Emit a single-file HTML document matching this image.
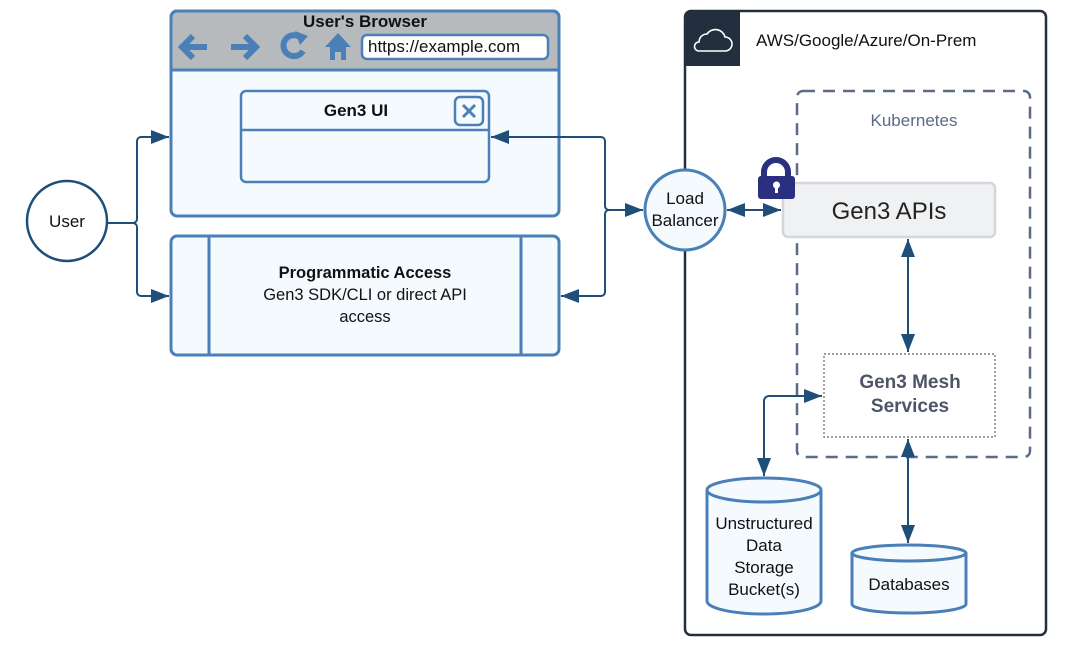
<!DOCTYPE html>
<html><head><meta charset="utf-8"><style>
html,body{margin:0;padding:0;background:#fff;width:1075px;height:658px;overflow:hidden}
svg{display:block;font-family:"Liberation Sans",Arial,sans-serif}
</style></head><body>
<svg width="1075" height="658" viewBox="0 0 1075 658">
<defs>
<marker id="b" markerWidth="18" markerHeight="14" refX="18" refY="7" orient="auto-start-reverse" markerUnits="userSpaceOnUse">
<path d="M0,0 L18,7 L0,14 Z" fill="#1f4e79"/></marker>
</defs>

<!-- Browser -->
<rect x="171" y="11" width="388" height="205" rx="6" fill="#f5faff" stroke="#4a80b7" stroke-width="3"/>
<path d="M171,70 V17 a6,6 0 0 1 6,-6 H553 a6,6 0 0 1 6,6 V70 Z" fill="#b7babd" stroke="#4a80b7" stroke-width="3"/>
<text x="365" y="27" text-anchor="middle" font-size="17" font-weight="bold" fill="#111">User's Browser</text>
<g stroke="#4a80b7" stroke-width="6" fill="none" stroke-linecap="butt">
<path d="M207,47 H182 M193,36 L182,47 L193,58"/>
<path d="M231,47 H256 M245,36 L256,47 L245,58"/>
<path d="M300,37 A10.5,10.5 0 1 0 303,51"/>
</g>
<path d="M295,31 L308,36 L300,45 Z" fill="#4a80b7"/>
<path d="M338,33 L325,47 H330 V60 H335 V52 H341 V60 H346 V47 H351 Z" fill="#4a80b7"/>
<rect x="362" y="35" width="186" height="24" rx="5" fill="#fff" stroke="#4a80b7" stroke-width="2.5"/>
<text x="368" y="52" font-size="17" fill="#111">https://example.com</text>

<rect x="241" y="91" width="248" height="91" rx="5" fill="#f5faff" stroke="#4a80b7" stroke-width="2.5"/>
<line x1="241" y1="130" x2="489" y2="130" stroke="#4a80b7" stroke-width="2.5"/>
<text x="356" y="116" text-anchor="middle" font-size="17" font-weight="bold" fill="#111">Gen3 UI</text>
<rect x="455" y="97" width="28" height="28" rx="5" fill="#f5faff" stroke="#4a80b7" stroke-width="2.5"/>
<path d="M463,105 L475,117 M475,105 L463,117" stroke="#4a80b7" stroke-width="3"/>

<!-- Programmatic -->
<rect x="171" y="236" width="388" height="119" rx="6" fill="#f5faff" stroke="#4a80b7" stroke-width="3"/>
<line x1="209" y1="236" x2="209" y2="355" stroke="#4a80b7" stroke-width="3"/>
<line x1="521" y1="236" x2="521" y2="355" stroke="#4a80b7" stroke-width="3"/>
<text x="365" y="278" text-anchor="middle" font-size="16.5" font-weight="bold" fill="#111">Programmatic Access</text>
<text x="365" y="300" text-anchor="middle" font-size="16.5" fill="#111">Gen3 SDK/CLI or direct API</text>
<text x="365" y="322" text-anchor="middle" font-size="16.5" fill="#111">access</text>

<!-- User -->
<circle cx="67" cy="221" r="40" fill="#fff" stroke="#1f4e79" stroke-width="2.5"/>
<text x="67" y="227" text-anchor="middle" font-size="17" fill="#111">User</text>
<g fill="none" stroke="#1f4e79" stroke-width="2">
<path d="M108,223 H133 a4,4 0 0 0 4,-4 V141 a4,4 0 0 1 4,-4 H169" marker-end="url(#b)"/>
<path d="M133,223 a4,4 0 0 1 4,4 V292 a4,4 0 0 0 4,4 H169" marker-end="url(#b)"/>
<path d="M491,137 H601 a4,4 0 0 1 4,4 V206 a4,4 0 0 0 4,4 H643" marker-start="url(#b)" marker-end="url(#b)"/>
<path d="M561,296 H601 a4,4 0 0 0 4,-4 V214 a4,4 0 0 1 4,-4"  marker-start="url(#b)"/>
</g>

<!-- Cloud container -->
<rect x="685" y="11" width="361" height="624" rx="6" fill="#fff" stroke="#232f3e" stroke-width="2.5"/>
<path d="M685,66 V17 a6,6 0 0 1 6,-6 H740 V66 Z" fill="#232f3e"/>
<path d="M699,51 H725 a7,7 0 0 0 0,-14 a10,10 0 0 0 -18,-3 a8,8 0 0 0 -8,8 a4.5,4.5 0 0 0 0,9 Z" fill="none" stroke="#fff" stroke-width="1.6"/>
<text x="756" y="46" font-size="17" fill="#111">AWS/Google/Azure/On-Prem</text>

<!-- LB -->
<circle cx="685" cy="210" r="40" fill="#f5faff" stroke="#4a80b7" stroke-width="3"/>
<text x="685" y="204" text-anchor="middle" font-size="17" fill="#111">Load</text>
<text x="685" y="226" text-anchor="middle" font-size="17" fill="#111">Balancer</text>

<!-- Kubernetes -->
<rect x="797" y="91" width="233" height="366" rx="6" fill="none" stroke="#5a6b85" stroke-width="2.5" stroke-dasharray="12,8"/>
<text x="914" y="126" text-anchor="middle" font-size="17" fill="#5a6b85">Kubernetes</text>

<rect x="783" y="183" width="212" height="54" rx="5" fill="#f0f1f3" stroke="#d3d7dc" stroke-width="2.5"/>
<text x="889" y="219" text-anchor="middle" font-size="24" fill="#222">Gen3 APIs</text>
<path d="M764,178 V172 a12,12 0 0 1 24,0 V178" fill="none" stroke="#2b2f80" stroke-width="6"/>
<rect x="758" y="176" width="37" height="23" rx="3" fill="#2b2f80"/>
<circle cx="776.5" cy="185" r="3.5" fill="#fff"/><rect x="775" y="185" width="3" height="8" fill="#fff"/>

<rect x="824" y="354" width="171" height="83" fill="#fff" stroke="#666" stroke-width="1.2" stroke-dasharray="2,2"/>
<text x="910" y="388" text-anchor="middle" font-size="19" font-weight="bold" fill="#4d5566">Gen3 Mesh</text>
<text x="910" y="412" text-anchor="middle" font-size="19" font-weight="bold" fill="#4d5566">Services</text>

<g fill="none" stroke="#1f4e79" stroke-width="2">
<path d="M727,210 H781" marker-start="url(#b)" marker-end="url(#b)"/>
<path d="M908,239 V352" marker-start="url(#b)" marker-end="url(#b)"/>
<path d="M822,396 H769 a5,5 0 0 0 -5,5 V476" marker-start="url(#b)" marker-end="url(#b)"/>
<path d="M908,439 V543" marker-start="url(#b)" marker-end="url(#b)"/>
</g>

<!-- Bucket -->
<path d="M707,490 V601 A57,13 0 0 0 821,601 V490" fill="#f5faff" stroke="#4a80b7" stroke-width="3"/>
<ellipse cx="764" cy="490" rx="57" ry="12" fill="#f5faff" stroke="#4a80b7" stroke-width="3"/>
<text x="764" y="529" text-anchor="middle" font-size="17" fill="#111">Unstructured</text>
<text x="764" y="551" text-anchor="middle" font-size="17" fill="#111">Data</text>
<text x="764" y="573" text-anchor="middle" font-size="17" fill="#111">Storage</text>
<text x="764" y="595" text-anchor="middle" font-size="17" fill="#111">Bucket(s)</text>

<!-- Databases -->
<path d="M852,553 V604 A57,9 0 0 0 966,604 V553" fill="#f5faff" stroke="#4a80b7" stroke-width="3"/>
<ellipse cx="909" cy="553" rx="57" ry="8" fill="#f5faff" stroke="#4a80b7" stroke-width="3"/>
<text x="909" y="590" text-anchor="middle" font-size="17" fill="#111">Databases</text>
</svg>
</body></html>
